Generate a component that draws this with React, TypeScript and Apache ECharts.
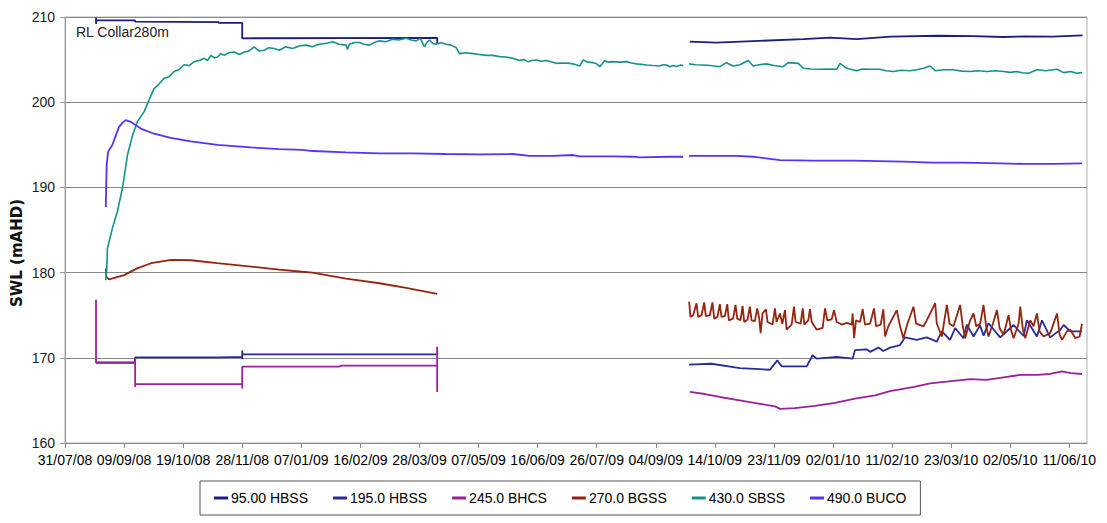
import React, { useEffect, useRef } from "react";
import * as echarts from "echarts";

// x values are days since 31/07/08, y values are SWL (mAHD)
const START_UTC = Date.UTC(2008, 6, 31);
const X_TICK_DAYS = 40;
const X_MAX_DAYS = 692;
const Y_MIN = 160;
const Y_MAX = 210;
const Y_STEP = 10;

const SERIES_NAMES = ["95.00 HBSS", "195.0 HBSS", "245.0 BHCS", "270.0 BGSS", "430.0 SBSS", "490.0 BUCO"];
const SERIES_COLORS = ["#1c1c84", "#2b2b9a", "#992299", "#952510", "#17928a", "#5533ff"];

const hbss95 = [
  [21, 209.95], [21, 209.2], [21.3, 209.6], [47.5, 209.6], [47.5, 209.45], [104, 209.4], [104, 209.3],
  [120, 209.3], [120, 207.5], [252, 207.55], [252, 206.85], [330, null],
  [423, 207.1], [441, 207.0], [470, 207.2], [500, 207.4], [518, 207.57], [536, 207.4], [559, 207.7],
  [590.5, 207.8], [615, 207.75], [635, 207.65], [650, 207.72], [669, 207.7], [689, 207.85],
];

const hbss195 = [
  [21, 169.45], [47.5, 169.45], [47.5, 170.05], [104, 170.05], [120, 170.1], [120, 169.85], [120, 170.85],
  [120.2, 170.4], [252, 170.4], [330, null],
  [422.6, 169.2], [437.7, 169.3], [457.0, 168.8], [477.3, 168.6], [482.3, 169.7], [485.2, 169.0],
  [502.2, 169.0], [506.2, 170.3], [509.0, 169.9], [522.5, 170.1], [533.3, 169.9], [534.9, 170.9],
  [542.8, 171.0], [545.1, 170.7], [550.8, 171.2], [554.1, 170.8], [558.7, 171.2], [565.4, 171.5],
  [568.8, 172.4], [576.7, 172.1], [583.5, 172.4], [590.3, 171.9], [593.7, 173.1], [599.3, 172.1],
  [602.7, 173.5], [608.4, 172.3], [610.6, 173.9], [615.2, 172.5], [619.5, 173.8], [622.0, 172.6],
  [625.3, 174.05], [633.2, 172.4], [642.3, 173.85], [649.1, 172.56], [651.3, 174.4], [658.1, 172.5],
  [661.5, 174.4], [667.1, 172.4], [673.9, 173.3], [676.2, 173.85], [680.7, 173.1], [688.6, 173.1],
];

const bhcs245 = [
  [21, 176.8], [21, 169.4], [47.5, 169.4], [47.5, 170.0], [47.5, 166.6], [47.8, 166.9], [104, 166.9],
  [120, 166.9], [120, 166.4], [120, 168.96], [186, 168.96], [186.5, 169.07], [252, 169.07],
  [252, 171.3], [252, 166.0], [330, null],
  [423.1, 166.0], [433.2, 165.75], [443.4, 165.4], [456.9, 165.0], [470.5, 164.6], [480.7, 164.3],
  [484.1, 164.0], [494.2, 164.1], [507.8, 164.35], [521.4, 164.7], [534.9, 165.2], [548.5, 165.6],
  [558.6, 166.1], [565.4, 166.3], [575, 166.6], [585.8, 167.0], [597, 167.2], [612.9, 167.5],
  [624, 167.4], [635.5, 167.7], [647, 168.0], [658.1, 168.0], [667, 168.1], [675.1, 168.4],
  [681, 168.2], [688.6, 168.1],
];

const bgss270 = [
  [27.6, 180.5], [28, 179.5], [29.8, 179.2], [40, 179.7], [48.8, 180.5], [58.3, 181.1], [71.9, 181.5],
  [85.4, 181.45], [103, 181.1], [126, 180.7], [145, 180.35], [160.7, 180.1], [167.6, 180.0],
  [190.3, 179.3], [212.9, 178.75], [231, 178.2], [252, 177.5], [330, null],
  [422.6, 176.6], [423.5, 174.8], [425.3, 175.0], [427.6, 176.4], [428.7, 174.8], [431.0, 175.0],
  [432.8, 176.5], [433.9, 174.9], [436.6, 175.0], [438.4, 176.5], [439.6, 174.6], [441.8, 174.8],
  [443.4, 176.3], [444.5, 174.8], [446.8, 174.9], [448.4, 176.3], [449.5, 174.4], [452.4, 174.6],
  [454.0, 176.2], [455.2, 174.6], [457.4, 174.4], [458.8, 176.1], [459.9, 174.2], [462.2, 174.5],
  [463.7, 176.0], [464.9, 174.4], [467.1, 174.3], [468.7, 175.8], [470.1, 174.6], [471.0, 172.9],
  [472.3, 175.2], [474.6, 175.7], [475.7, 174.2], [479.1, 173.9], [480.7, 175.8], [481.8, 174.2],
  [484.1, 175.2], [485.7, 174.0], [487.5, 175.6], [488.6, 173.3], [492.0, 173.9], [493.6, 176.0],
  [494.7, 174.2], [498.1, 174.0], [499.5, 175.8], [500.6, 173.9], [503.3, 174.4], [504.4, 175.7],
  [505.6, 174.2], [509.0, 173.3], [513.0, 173.5], [514.6, 175.8], [516.2, 174.4], [519.1, 174.5],
  [520.7, 175.6], [522.5, 174.2], [525.9, 173.9], [529.3, 174.1], [532.7, 173.9], [533.3, 175.2],
  [534.3, 172.3], [535.6, 174.4], [538.3, 174.2], [540.1, 175.7], [541.7, 173.9], [545.1, 174.0],
  [547.8, 175.8], [549.2, 173.7], [552.3, 173.9], [554.1, 175.7], [555.3, 172.5], [557.5, 173.7],
  [563.2, 175.6], [565.4, 173.7], [567.7, 172.3], [570.4, 174.0], [574.5, 176.0], [576.3, 174.0],
  [581.3, 173.7], [583.5, 174.4], [589.2, 176.4], [590.3, 174.0], [593.7, 172.5], [597.1, 176.2],
  [598.9, 174.0], [601.6, 173.7], [606.1, 176.2], [607.9, 173.7], [609.5, 172.3], [612.9, 174.4],
  [615.2, 175.2], [617.0, 173.7], [619.7, 174.0], [621.9, 176.2], [623.7, 173.7], [625.3, 172.5],
  [628.3, 174.0], [631.0, 175.6], [632.8, 173.5], [635.5, 172.7], [638.9, 175.0], [640.5, 173.3],
  [642.3, 172.3], [645.7, 174.0], [646.8, 176.0], [648.6, 173.3], [650.2, 172.3], [653.6, 174.4],
  [655.8, 173.7], [658.1, 175.2], [659.9, 173.1], [662.6, 172.5], [667.1, 172.9], [671.7, 175.2],
  [673.5, 172.7], [675.1, 172.1], [678.4, 173.1], [680.7, 173.3], [684.1, 172.3], [687.0, 172.5],
  [688.6, 174.0],
];

const sbss430 = [
  [27.6, 179.1], [28.3, 180.5], [28.7, 182.8], [32.1, 185.2], [35.5, 187.2], [38.9, 189.9], [42.3, 193.8],
  [45.7, 196.1], [49.0, 197.7], [53.6, 198.9], [57.0, 200.3], [60.3, 201.6], [63.5, 202.1], [67.1, 202.8],
  [70.5, 203.0], [73.9, 203.6], [77.0, 203.8], [80.7, 204.4], [84, 204.3], [87.5, 204.76], [91, 204.9],
  [94.2, 205.15], [96.5, 204.9], [98.8, 205.5], [101, 205.2], [103.3, 205.3], [105.5, 205.7],
  [107.8, 205.5], [111, 205.8], [114.6, 205.9], [118, 205.6], [121.4, 205.9], [124.5, 206.0],
  [128.1, 206.5], [131.5, 206.0], [134.9, 206.1], [138, 206.4], [141.7, 206.3], [145.1, 206.1],
  [149.5, 206.5], [154.1, 206.3], [158.5, 206.6], [163.2, 206.7], [167.5, 206.5], [172.2, 206.8],
  [176.5, 206.9], [181.3, 207.1], [185.5, 206.8], [190.3, 206.7], [191.4, 206.2], [192.5, 206.8],
  [196, 207.0], [199.3, 207.0], [202.5, 206.8], [206.1, 206.7], [209.5, 207.0], [212.9, 207.2],
  [217, 207.1], [221.9, 207.4], [226, 207.3], [231.0, 207.5], [234.5, 207.3], [237.8, 207.2],
  [240.5, 207.5], [243.4, 206.5], [245, 207.0], [246.8, 207.3], [249, 206.9], [251.3, 206.8],
  [254.5, 207.0], [258.1, 206.8], [261.5, 206.7], [264.9, 206.4], [267.1, 205.7], [271.5, 205.8],
  [276.2, 205.7], [280.5, 205.6], [285.2, 205.5], [289.5, 205.5], [294.3, 205.35], [298.5, 205.3],
  [303.3, 205.15], [307.8, 204.9], [310.5, 205.0], [313.5, 204.76], [316, 204.9], [319.1, 204.95],
  [322.5, 204.8], [325.9, 204.9], [329, 204.75], [332.7, 204.56], [337, 204.6], [341.7, 204.56],
  [345, 204.45], [348.5, 204.25], [350.8, 204.95], [354, 204.7], [357.5, 204.64], [360, 204.5],
  [362.1, 204.17], [365.5, 204.9], [368, 204.7], [371.1, 204.76], [375.5, 204.7], [380.1, 204.76],
  [383.5, 204.6], [386.9, 204.5], [390, 204.45], [393.7, 204.37], [398, 204.3], [402.7, 204.25],
  [405, 204.4], [407.3, 204.37], [409.5, 204.17], [411.8, 204.3], [414, 204.2], [416.5, 204.35],
  [418.6, 204.3], [420.5, null],
  [422.6, 204.5], [427, 204.4], [432.1, 204.37], [437, 204.3], [443.4, 204.17], [447.9, 204.64],
  [452.4, 204.25], [457, 204.4], [462.6, 204.9], [466.0, 204.25], [470, 204.4], [475.0, 204.5],
  [480, 204.3], [486.3, 204.17], [489.7, 204.64], [496.5, 204.56], [499.9, 203.98], [505, 203.9],
  [511.2, 203.86], [517, 203.9], [522.5, 203.86], [524.8, 204.56], [529.3, 203.98], [536.1, 203.7],
  [540, 203.9], [545.1, 203.86], [551.9, 203.86], [556, 203.7], [560.9, 203.6], [566, 203.75],
  [572.2, 203.7], [577, 203.8], [581.3, 203.98], [585.8, 204.25], [589.2, 203.7], [595, 203.8],
  [601.6, 203.8], [607, 203.65], [612.9, 203.6], [618, 203.7], [624.2, 203.6], [630, 203.7],
  [635.5, 203.6], [640, 203.5], [644.5, 203.6], [648, 203.45], [652.5, 203.39], [658.1, 203.8],
  [664, 203.7], [671.7, 203.86], [676.2, 203.47], [681, 203.6], [685, 203.4], [688.6, 203.47],
];

const buco490 = [
  [27.6, 187.7], [28.2, 192.6], [29.2, 194.2], [32.1, 195.0], [34.4, 196.1], [36.6, 197.1], [39, 197.6],
  [41.1, 197.9], [44.5, 197.7], [51.3, 196.9], [60.3, 196.3], [71.6, 195.8], [85.2, 195.4],
  [103.3, 194.98], [125.9, 194.7], [145.1, 194.5], [160.9, 194.4], [167.7, 194.27], [190.3, 194.12],
  [212.9, 194.0], [235.5, 194.0], [258.1, 193.92], [280.7, 193.88], [303.3, 193.92], [314.6, 193.7],
  [330.4, 193.7], [344.0, 193.8], [348.5, 193.65], [371.1, 193.65], [384.7, 193.6], [389.2, 193.53],
  [409.5, 193.6], [418.6, 193.6], [420.5, null],
  [422.6, 193.69], [454.7, 193.69], [466.0, 193.6], [484.1, 193.2], [506.7, 193.14], [533.8, 193.14],
  [567.7, 193.02], [588.0, 192.9], [608.4, 192.9], [633.2, 192.83], [649.1, 192.75], [669.4, 192.75],
  [688.6, 192.83],
];

const SERIES_DATA = [hbss95, hbss195, bhcs245, bgss270, sbss430, buco490];

const FONT = "'Liberation Sans', Arial, sans-serif";

function fmtDay(d: number): string {
  const dt = new Date(START_UTC + d * 86400000);
  const dd = String(dt.getUTCDate()).padStart(2, "0");
  const mm = String(dt.getUTCMonth() + 1).padStart(2, "0");
  const yy = String(dt.getUTCFullYear() % 100).padStart(2, "0");
  return `${dd}/${mm}/${yy}`;
}

export default function App() {
  const ref = useRef<HTMLDivElement>(null);
  useEffect(() => {
    if (!ref.current) return;
    const chart = echarts.init(ref.current, null, { renderer: "svg" });
    chart.setOption({
      animation: false,
      backgroundColor: "#ffffff",
      grid: {
        left: 65, right: 20, top: 17, bottom: 80,
        show: true, borderColor: "#b0b0b0", borderWidth: 1, backgroundColor: "transparent",
      },
      legend: {
        data: SERIES_NAMES,
        left: 200, top: 481,
        orient: "horizontal",
        icon: "rect",
        itemWidth: 14, itemHeight: 3, itemGap: 25,
        padding: [10, 14, 10, 14],
        borderColor: "#555", borderWidth: 1,
        textStyle: { fontFamily: FONT, fontSize: 14, color: "#000", padding: [0, 0, 0, -2] },
      },
      xAxis: {
        type: "value",
        min: 0, max: X_MAX_DAYS, interval: X_TICK_DAYS,
        axisLine: { show: true, lineStyle: { color: "#888", width: 1 } },
        axisTick: { show: true, length: 5, lineStyle: { color: "#888" } },
        splitLine: { show: false },
        axisLabel: {
          showMaxLabel: false,
          margin: 10,
          fontFamily: FONT, fontSize: 14, color: "#000",
          formatter: (v: number) => (v % X_TICK_DAYS === 0 ? fmtDay(v) : ""),
        },
      },
      yAxis: {
        type: "value",
        min: Y_MIN, max: Y_MAX, interval: Y_STEP,
        axisLine: { show: true, lineStyle: { color: "#999", width: 1 } },
        axisTick: { show: true, length: 5, lineStyle: { color: "#999" } },
        splitLine: { show: true, lineStyle: { color: "#8a8a8a", width: 1 } },
        axisLabel: { margin: 10, fontFamily: FONT, fontSize: 14, color: "#222" },
      },
      graphic: [
        {
          type: "text", left: 76, top: 25, silent: true,
          style: { text: "RL Collar280m", fill: "#222", font: `14px ${FONT}` },
        },
        {
          type: "text", x: 17, y: 253, rotation: Math.PI / 2, silent: true,
          style: {
            text: "SWL (mAHD)", fill: "#111", font: `bold 15px 'DejaVu Sans', ${FONT}`,
            align: "center", verticalAlign: "middle", textAlign: "center", textVerticalAlign: "middle",
          },
        },
      ],
      series: SERIES_NAMES.map((name, i) => ({
        name,
        type: "line",
        data: SERIES_DATA[i],
        showSymbol: false,
        symbol: "none",
        connectNulls: false,
        color: SERIES_COLORS[i],
        lineStyle: { color: SERIES_COLORS[i], width: i === 4 ? 1.6 : 1.8 },
        z: 2 + i,
      })),
    });
    return () => chart.dispose();
  }, []);
  return (
    <div
      ref={ref}
      style={{ position: "fixed", left: 0, top: 0, width: 1107, height: 523, background: "#fff" }}
    />
  );
}
